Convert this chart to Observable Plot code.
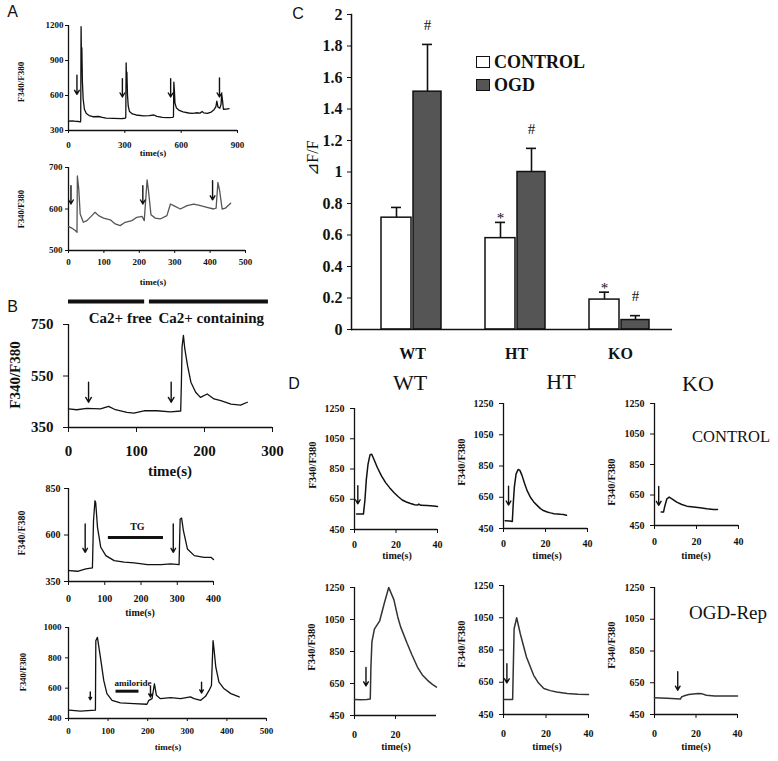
<!DOCTYPE html>
<html><head><meta charset="utf-8">
<script src="https://cdn.jsdelivr.net/npm/d3@7"></script>
<script src="https://cdn.jsdelivr.net/npm/@observablehq/plot@0.6"></script>
<style>
body{margin:0;background:#fff;}
#fig{position:relative;width:778px;height:761px;overflow:hidden;background:#fff;font-family:"Liberation Serif","Times New Roman",serif;color:#111;}
.lbl{position:absolute;white-space:nowrap;transform:translate(-50%,-50%);line-height:1;font-family:"Liberation Serif","Times New Roman",serif;}
.rot{transform:translate(-50%,-50%) rotate(-90deg);}
.pl{position:absolute;}
</style></head><body><div id="fig"></div>
<script>
// ---------- Panel A (top) ----------
const aTop = [[0,380],[20,383],[40,378],[55,377],[63,373],[65,385],[67,1190],[69,920],[71,1010],[74,720],[78,570],[85,480],[95,445],[110,428],[130,418],[160,420],[180,412],[200,406],[240,404],[280,402],[302,405],[305,412],[307,880],[309,720],[311,800],[314,610],[318,510],[325,462],[340,442],[360,433],[400,426],[430,428],[455,433],[470,421],[500,413],[530,410],[556,412],[559,420],[561,715],[564,640],[567,535],[575,492],[590,472],[610,460],[640,450],[660,446],[680,452],[700,449],[712,463],[720,451],[740,446],[760,458],[775,478],[785,505],[790,552],[796,500],[806,492],[812,520],[816,612],[820,560],[825,482],[840,483],[855,488]];
const aTopArrows = [[45,773,610],[287,744,587],[544,744,587],[804,750,587]];
const aTopXTicks = [0,300,600,900];
const aTopYTicks = [300,600,900,1200];
// ---------- Panel A (bottom) ----------
const aBot = [[0,558],[9,554],[19,548],[24,544],[25,680],[29,648],[33,588],[42,568],[52,572],[66,584],[75,592],[85,584],[99,578],[118,574],[132,564],[146,560],[160,568],[179,572],[193,580],[208,582],[214,572],[222,670],[226,644],[233,586],[245,578],[259,576],[278,584],[288,612],[297,608],[316,600],[335,608],[354,612],[373,608],[391,604],[410,600],[417,602],[422,664],[427,644],[434,600],[443,602],[458,614]];
const aBotArrows = [[7,656,612],[210,656,612],[407,668,622]];
const aBotXTicks = [0,100,200,300,400,500];
const aBotYTicks = [500,600,700];
// ---------- Panel B ----------
const bTop = [[0,422],[12,419],[27,424],[47,422],[59,432],[69,419],[86,409],[96,406],[111,415],[130,415],[150,411],[165,414],[166,520],[167,663],[169,708],[171,656],[175,591],[180,526],[187,487],[194,467],[204,480],[214,461],[224,454],[239,441],[253,437],[263,448]];
const bTopArrows = [[29.5,526,448],[151,526,448]];
const bTopBars = [{x1:0,x2:112,y:839},{x1:119,x2:294,y:839}];
const bTopNotes = [{x:76,y:773,text:"Ca2+ free"},{x:210,y:773,text:"Ca2+ containing"}];
const bTopXTicks = [0,100,200,300];
const bTopYTicks = [350,550,750];
const bMid = [[2,409],[25,405],[48,418],[66,423],[69,677],[73,784],[75,775],[80,641],[89,534],[103,489],[126,462],[154,454],[181,450],[218,441],[255,441],[282,445],[305,441],[308,686],[312,691],[317,623],[328,525],[347,489],[374,480],[393,480],[400,468]];
const bMidArrows = [[46,659,507],[289,659,507]];
const bMidBars = [{x1:110,x2:262,y:587}];
const bMidNotes = [{x:190,y:646,text:"TG"}];
const bMidXTicks = [0,100,200,300,400];
const bMidYTicks = [350,600,850];
const bBot = [[2,455],[30,448],[68,455],[69,913],[73,935],[80,815],[89,651],[97,564],[110,520],[131,503],[165,498],[198,494],[203,520],[211,531],[217,629],[222,553],[232,531],[258,537],[283,531],[308,542],[317,531],[334,520],[346,546],[355,585],[361,618],[365,913],[367,869],[372,738],[380,640],[393,596],[410,564],[431,542]];
const bBotArrows = [[55,575,524],[207,612,542],[336,640,568]];
const bBotBars = [{x1:120,x2:178,y:580}];
const bBotNotes = [{x:163,y:633,text:"amiloride"}];
const bBotXTicks = [0,100,200,300,400,500];
const bBotYTicks = [400,600,800,1000];
// ---------- Panel C ----------
const groups = ["WT","HT","KO"];
const controlMean = [0.71,0.58,0.19];
const controlErr = [0.065,0.10,0.047];
const controlSig = ["","*","*"];
const ogdMean = [1.51,1.00,0.06];
const ogdErr = [0.30,0.15,0.028];
const ogdSig = ["#","#","#"];
const cYTicks = [0,0.2,0.4,0.6,0.8,1,1.2,1.4,1.6,1.8,2];
// ---------- Panel D ----------
const dYTicks = [450,650,850,1050,1250];
const dXTicks = [0,20,40];
const dWTc = [[1,552],[4.3,552],[5,640],[5.7,780],[6.5,880],[7.5,945],[8.3,948],[9.5,910],[11,860],[13,805],[15,760],[17,725],[19,695],[21,668],[23,645],[25,632],[27,622],[29,614],[30.5,612],[31,618],[32,610],[35,608],[38,605],[40,602]];
const dHTc = [[0.8,500],[3,498],[4.2,495],[4.6,600],[5.2,720],[6,800],[7,828],[7.8,822],[8.8,790],[10,740],[11.2,694],[12.8,650],[14.4,620],[16,598],[17.6,577],[19,565],[20.8,556],[22.4,550],[24,545],[27.2,541],[28.5,540],[30,535]];
const dKOc = [[3.2,538],[4.3,538],[4.8,571],[5.9,625],[7,636],[8.3,625],[10.6,603],[13,588],[15.4,577],[18.6,571],[21.7,566],[24.9,560],[28.1,555],[30,555]];
const dWTo = [[0,550],[3,548],[6,550],[7.7,553],[8,750],[8.5,910],[9.7,990],[12.3,1042],[14.5,1150],[16.7,1250],[19.2,1174],[21.1,1066],[22.5,1004],[25.7,900],[28,830],[30.7,753],[33,705],[35.6,670],[38,645],[40,628]];
const dHTo = [[0,543],[4.3,543],[5,982],[6.2,1050],[7.9,951],[10.8,807],[14.2,693],[16.5,645],[19,611],[22,598],[25,590],[30,580],[35,576],[40,574]];
const dKOo = [[0,555],[6,553],[12.5,547],[13,560],[14,566],[16.5,576],[21,582],[23,580],[25,571],[29,566],[35,566],[40,566]];
const dArrows = {WTc:[[1.6,740,620]],HTc:[[2.4,720,600]],KOc:[[2,706,582]],WTo:[[5.6,750,635]],HTo:[[1.6,765,646]],KOo:[[11.2,719,603]]};

const SERIF = "'Liberation Serif', 'Times New Roman', serif";
const fig = document.getElementById("fig");
function label(text, x, y, o = {}) {
  const d = document.createElement("div");
  d.className = "lbl" + (o.rot ? " rot" : "");
  d.textContent = text;
  d.style.left = x + "px"; d.style.top = y + "px";
  d.style.fontSize = (o.size || 10) + "px";
  d.style.fontWeight = o.bold === false ? "normal" : "bold";
  if (o.family) d.style.fontFamily = o.family;
  fig.appendChild(d);
}
function mount(svg, x, y) {
  const w = document.createElement("div");
  w.className = "pl"; w.style.left = x + "px"; w.style.top = y + "px";
  w.appendChild(svg); fig.appendChild(w);
}
function trace(c) {
  const m = {top: c.mt || 12, right: 14, bottom: 34, left: 55};
  const [x0, x1, y0, y1] = c.frame;
  const f = c.font;
  const marks = [
    Plot.axisX({ticks: c.xTicks, tickFormat: d => String(d), tickSize: c.ts || 4, tickPadding: c.padX, label: null, fontFamily: SERIF}),
    Plot.axisY({ticks: c.yTicks, tickFormat: d => String(d), tickSize: c.ts || 4, tickPadding: c.padY, label: null, fontFamily: SERIF}),
    Plot.ruleX([c.xDomain[0]], {strokeWidth: 1.3, stroke: "#111"}),
    Plot.ruleY([c.yDomain[0]], {strokeWidth: 1.3, stroke: "#111"}),
    Plot.line(c.data, {x: d => d[0], y: d => d[1], stroke: c.stroke || "#111", strokeWidth: c.sw || 1.3, strokeLinejoin: "round"}),
    Plot.arrow(c.arrows, {x1: d => d[0], x2: d => d[0], y1: d => d[1], y2: d => d[2], headLength: c.hl || 5, headAngle: 60, strokeWidth: 1.4, stroke: "#111"})
  ];
  if (c.bars) marks.push(Plot.ruleY(c.bars, {y: "y", x1: "x1", x2: "x2", strokeWidth: c.barW || 3, stroke: "#111"}));
  if (c.notes) marks.push(Plot.text(c.notes, {x: "x", y: "y", text: "text", fontSize: c.noteSize || f, fontWeight: "bold", fontFamily: SERIF}));
  const svg = Plot.plot({
    width: x1 - x0 + m.left + m.right, height: y1 - y0 + m.top + m.bottom,
    marginLeft: m.left, marginRight: m.right, marginTop: m.top, marginBottom: m.bottom,
    x: {domain: c.xDomain}, y: {domain: c.yDomain},
    style: {background: "none", overflow: "visible", fontFamily: SERIF, fontWeight: "bold", fontSize: f + "px", color: "#111"},
    marks
  });
  mount(svg, x0 - m.left, y0 - m.top);
}

// Panel A
trace({frame:[68,237,25,130], xDomain:[0,900], yDomain:[300,1200], xTicks:aTopXTicks, yTicks:aTopYTicks, data:aTop, arrows:aTopArrows, font:9, padX:8, padY:2, ts:3});
trace({frame:[68,245,167,250], xDomain:[0,500], yDomain:[500,700], xTicks:aBotXTicks, yTicks:aBotYTicks, data:aBot, arrows:aBotArrows, font:9, padX:5, padY:3, ts:3, stroke:"#555"});
label("A", 12.5, 12, {size:16, bold:false, family:"'Liberation Sans', Arial, sans-serif"});
label("F340/F380", 21, 82, {rot:true, size:9});
label("time(s)", 153, 153, {size:9});
label("F340/F380", 21, 209, {rot:true, size:8.5});
label("time(s)", 153, 282, {size:9});

// Panel B
trace({frame:[68,272,324,427], mt:30, xDomain:[0,300], yDomain:[350,750], xTicks:bTopXTicks, yTicks:bTopYTicks, data:bTop, arrows:bTopArrows, font:15, padX:13, padY:10, ts:5, bars:bTopBars, barW:4, notes:bTopNotes, hl:6});
trace({frame:[68,213,488,581], xDomain:[0,400], yDomain:[350,850], xTicks:bMidXTicks, yTicks:bMidYTicks, data:bMid, arrows:bMidArrows, font:10, padX:9, padY:4, bars:bMidBars, barW:3, notes:bMidNotes});
trace({frame:[68,266,627,718], xDomain:[0,500], yDomain:[400,1000], xTicks:bBotXTicks, yTicks:bBotYTicks, data:bBot, arrows:bBotArrows, font:9, padX:6, padY:4, ts:3, bars:bBotBars, barW:3, notes:bBotNotes, noteSize:9});
label("B", 12.5, 307, {size:16, bold:false, family:"'Liberation Sans', Arial, sans-serif"});
label("F340/F380", 15, 375, {rot:true, size:15});
label("time(s)", 170, 471, {size:15});
label("F340/F380", 22, 533, {rot:true, size:10});
label("time(s)", 140, 613, {size:10});
label("F340/F380", 23, 672, {rot:true, size:8.5});
label("time(s)", 168, 747, {size:9});

// Panel C
{
  const rows = (series, mean, err, sig) => groups.map((g, i) => ({group: g, series, mean: mean[i], top: mean[i] + err[i], sig: sig[i]}));
  const ctl = rows("CONTROL", controlMean, controlErr, controlSig);
  const ogd = rows("OGD", ogdMean, ogdErr, ogdSig);
  const m = {left: 60, right: 20, top: 14, bottom: 40};
  const svg = Plot.plot({
    width: 321 + m.left + m.right, height: 315 + m.top + m.bottom,
    marginLeft: m.left, marginRight: m.right, marginTop: m.top, marginBottom: m.bottom,
    x: {type: "band", domain: groups, paddingInner: 0, paddingOuter: 0.0286, align: 1},
    y: {domain: [0, 2]},
    style: {background: "none", overflow: "visible", fontFamily: SERIF, fontWeight: "bold", fontSize: "16px", color: "#111"},
    marks: [
      Plot.axisY({ticks: cYTicks, tickFormat: d => String(d), tickSize: 4, tickPadding: 5, label: null, fontFamily: SERIF}),
      Plot.axisX({tickSize: 0, tickPadding: 18, label: null, fontFamily: SERIF}),
      Plot.barY(ctl, {x: "group", y: "mean", fill: "white", stroke: "#111", strokeWidth: 1.5, insetLeft: 21, insetRight: 53}),
      Plot.barY(ogd, {x: "group", y: "mean", fill: "#555", stroke: "#111", strokeWidth: 1.5, insetLeft: 53, insetRight: 23}),
      Plot.ruleX(ctl, {x: "group", y1: "mean", y2: "top", dx: -16, strokeWidth: 1.6, stroke: "#111"}),
      Plot.ruleX(ogd, {x: "group", y1: "mean", y2: "top", dx: 15, strokeWidth: 1.6, stroke: "#111"}),
      Plot.tickY(ctl, {x: "group", y: "top", insetLeft: 31, insetRight: 63, strokeWidth: 1.6, stroke: "#111"}),
      Plot.tickY(ogd, {x: "group", y: "top", insetLeft: 62, insetRight: 32, strokeWidth: 1.6, stroke: "#111"}),
      Plot.text(ctl, {x: "group", y: "top", text: "sig", dx: -16, dy: -4, fontSize: 15, fontWeight: "normal", fontFamily: SERIF}),
      Plot.text(ogd, {x: "group", y: "top", text: "sig", dx: 15, dy: -19, fontSize: 15, fontWeight: "normal", fontFamily: SERIF}),
      Plot.ruleY([0], {strokeWidth: 1.5, stroke: "#111"}),
      Plot.frame({anchor: "left", strokeWidth: 1.5, stroke: "#111"})
    ]
  });
  mount(svg, 351 - m.left, 14 - m.top);
  label("C", 298, 14, {size:16, bold:false, family:"'Liberation Sans', Arial, sans-serif"});
  label("⊿F/F", 313, 158, {rot:true, size:16, bold:false});
  // legend
  const box = (y, fill) => { const b = document.createElement("div"); b.style.cssText = `position:absolute;left:476px;top:${y}px;width:12px;height:10px;border:1.5px solid #111;background:${fill};`; fig.appendChild(b); };
  box(56, "#fff"); box(79, "#555");
  const lt = (t, y) => { const d = document.createElement("div"); d.textContent = t; d.style.cssText = `position:absolute;left:494px;top:${y}px;transform:translateY(-50%);font-family:${SERIF};font-weight:bold;font-size:18px;line-height:1;white-space:nowrap;`; fig.appendChild(d); };
  lt("CONTROL", 62); lt("OGD", 85);
}

// Panel D
const dCfg = {xDomain:[0,40], yDomain:[450,1250], yTicks:dYTicks, font:10, padY:6, sw:1.5};
trace({...dCfg, frame:[354,437,408,529], xTicks:dXTicks, data:dWTc, arrows:dArrows.WTc, padX:7});
trace({...dCfg, frame:[503,587,403,528], xTicks:dXTicks, data:dHTc, arrows:dArrows.HTc, padX:7});
trace({...dCfg, frame:[654,738,403,525], xTicks:dXTicks, data:dKOc, arrows:dArrows.KOc, padX:8});
trace({...dCfg, frame:[354,436,587,715], xTicks:[0,20], data:dWTo, arrows:dArrows.WTo, padX:11, stroke:"#333"});
trace({...dCfg, frame:[503,588,585,714], xTicks:dXTicks, data:dHTo, arrows:dArrows.HTo, padX:11, stroke:"#333"});
trace({...dCfg, frame:[654,737,587,714], xTicks:dXTicks, data:dKOo, arrows:dArrows.KOo, padX:11, stroke:"#333"});
label("D", 294, 384, {size:16, bold:false, family:"'Liberation Sans', Arial, sans-serif"});
label("WT", 410, 383, {size:22, bold:false});
label("HT", 561, 382, {size:22, bold:false});
label("KO", 698, 384, {size:22, bold:false});
label("CONTROL", 731, 437, {size:16.5, bold:false});
label("OGD-Rep", 728, 612, {size:19, bold:false});
[[313,465],[462,462],[612,482],[312,647],[462,644],[612,645]].forEach(([x,y]) => label("F340/F380", x, y, {rot:true, size:10.5}));
[[397,556],[547,556],[696,556],[396,747],[547,747],[696,747]].forEach(([x,y]) => label("time(s)", x, y, {size:10}));
</script></body></html>
